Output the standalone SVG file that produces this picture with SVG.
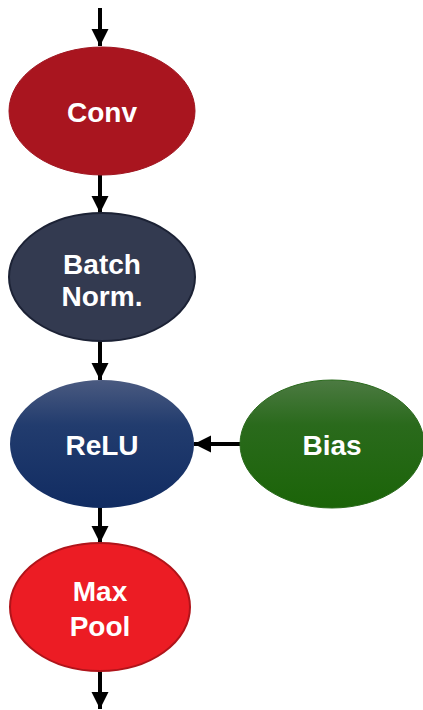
<svg xmlns="http://www.w3.org/2000/svg" width="423" height="710" viewBox="0 0 423 710">
<defs>
<linearGradient id="gRelu" x1="0" y1="0" x2="0" y2="1"><stop offset="0" stop-color="#4a5a80"/><stop offset="0.35" stop-color="#223c6e"/><stop offset="1" stop-color="#112c62"/></linearGradient>
<linearGradient id="gBias" x1="0" y1="0" x2="0" y2="1"><stop offset="0" stop-color="#4c7a42"/><stop offset="0.35" stop-color="#2a6a1c"/><stop offset="1" stop-color="#1b6408"/></linearGradient>
<marker id="ah" markerUnits="userSpaceOnUse" markerWidth="19" markerHeight="18" refX="17" refY="8.5" orient="auto"><path d="M0,0 L17,8.5 L0,17 Z" fill="#000"/></marker>
</defs>
<style>
.lbl{font-family:"Liberation Sans",Arial,sans-serif;font-weight:bold;font-size:28px;fill:#fff;text-anchor:middle}
.ed{stroke:#000;stroke-width:4;fill:none;marker-end:url(#ah)}
</style>
<g id="edges">
<line class="ed" x1="100" y1="8" x2="100" y2="46"/>
<line class="ed" x1="100" y1="175" x2="100" y2="213"/>
<line class="ed" x1="100" y1="341" x2="100" y2="380"/>
<line class="ed" x1="241" y1="444" x2="194" y2="444"/>
<line class="ed" x1="100" y1="507" x2="100" y2="543"/>
<line class="ed" x1="100" y1="670" x2="100" y2="709"/>
</g>
<g id="conv"><ellipse cx="102" cy="111" rx="93" ry="64" fill="#a9151f" stroke="#a01520" stroke-width="1"/><text class="lbl" x="102" y="122">Conv</text></g>
<g id="batchnorm"><ellipse cx="102" cy="277" rx="93" ry="64" fill="#333a50" stroke="#1c2235" stroke-width="2"/><text class="lbl" x="102" y="274">Batch</text><text class="lbl" x="102" y="306">Norm.</text></g>
<g id="relu"><ellipse cx="102" cy="444" rx="92" ry="64" fill="url(#gRelu)"/><text class="lbl" x="102" y="455">ReLU</text></g>
<g id="bias"><ellipse cx="332" cy="444" rx="92" ry="64" fill="url(#gBias)" stroke="#2a6a1c" stroke-width="1"/><text class="lbl" x="332" y="455">Bias</text></g>
<g id="maxpool"><ellipse cx="100" cy="607" rx="90" ry="64" fill="#ec1c24" stroke="#b0141a" stroke-width="2"/><text class="lbl" x="100" y="601">Max</text><text class="lbl" x="100" y="636">Pool</text></g>
</svg>
